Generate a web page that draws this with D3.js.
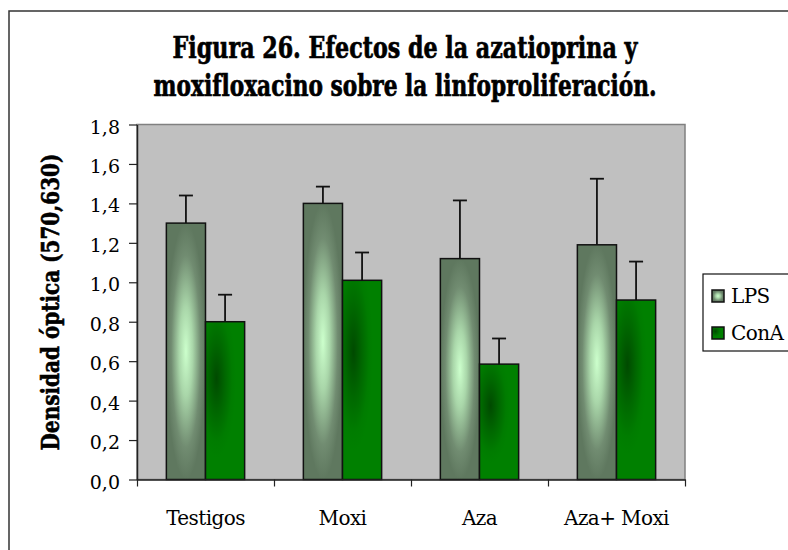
<!DOCTYPE html>
<html lang="es">
<head>
  <meta charset="UTF-8">
  <title>Figura 26</title>
  <script src="https://d3js.org/d3.v7.min.js"></script>
  <style>
    html, body {
      margin: 0;
      padding: 0;
      background: #fff;
    }
    svg {
      display: block;
      font-family: "DejaVu Serif", serif;
    }
  </style>
</head>
<body>
  <div id="chart"></div>
  <script>
    // data
    var categories = ["Testigos", "Moxi", "Aza", "Aza+ Moxi"];
    var seriesNames = ["LPS", "ConA"];
    var lpsValues = [1.30, 1.40, 1.12, 1.19];
    var lpsErrors = [0.14, 0.085, 0.295, 0.335];
    var conAValues = [0.80, 1.01, 0.585, 0.91];
    var conAErrors = [0.137, 0.141, 0.13, 0.195];
    var yTicks = [0, 0.2, 0.4, 0.6, 0.8, 1.0, 1.2, 1.4, 1.6, 1.8];
    var titleLines = ["Figura 26. Efectos de la azatioprina y",
                      "moxifloxacino sobre la linfoproliferación."];
    var yLabel = "Densidad óptica (570,630)";

    var width = 788, height = 550;
    var plot = {left: 137, right: 685, top: 124.5, bottom: 479.5};

    var svg = d3.select("#chart").append("svg")
      .attr("width", width)
      .attr("height", height);

    var defs = svg.append("defs");

    // LPS: light mint centre fading to grey-green edges
    var lpsGrad = defs.append("radialGradient")
      .attr("id", "lpsGrad")
      .attr("cx", "50%").attr("cy", "50%").attr("r", "50%");
    lpsGrad.append("stop").attr("offset", "0%").attr("stop-color", "#ccffcc");
    lpsGrad.append("stop").attr("offset", "35%").attr("stop-color", "#a9d6a9");
    lpsGrad.append("stop").attr("offset", "75%").attr("stop-color", "#718c71");
    lpsGrad.append("stop").attr("offset", "100%").attr("stop-color", "#5f785f");

    // ConA: green with a darker patch upper left
    var conGrad = defs.append("radialGradient")
      .attr("id", "conGrad")
      .attr("cx", "28%").attr("cy", "36%").attr("r", "50%");
    conGrad.append("stop").attr("offset", "0%").attr("stop-color", "#004a00");
    conGrad.append("stop").attr("offset", "45%").attr("stop-color", "#006800");
    conGrad.append("stop").attr("offset", "80%").attr("stop-color", "#007c00");
    conGrad.append("stop").attr("offset", "100%").attr("stop-color", "#008000");

    var fills = {LPS: "url(#lpsGrad)", ConA: "url(#conGrad)"};

    // squeeze a text horizontally (in its own frame) to a target width
    function squeeze(sel, target) {
      sel.each(function(d, i) {
        var t = d3.select(this);
        var w = this.getComputedTextLength();
        var goal = typeof target === "function" ? target(d, i) : target;
        var base = t.attr("data-base") || "";
        t.attr("transform", base + ` scale(${goal / w},1)`);
      });
    }

    // outer chart frame (runs off the right and bottom edge)
    svg.append("rect")
      .attr("x", 9).attr("y", 11)
      .attr("width", 820).attr("height", 580)
      .attr("fill", "#fff")
      .attr("stroke", "#333")
      .attr("stroke-width", 1.5);

    // title
    svg.append("g").selectAll("text")
      .data(titleLines)
      .join("text")
      .attr("x", 0)
      .attr("y", 0)
      .attr("data-base", (d, i) => `translate(405,${58 + i * 38})`)
      .attr("text-anchor", "middle")
      .attr("font-weight", "bold")
      .attr("font-size", 29)
      .attr("stroke", "#000")
      .attr("stroke-width", 0.7)
      .text(d => d)
      .call(squeeze, (d, i) => i === 0 ? 465 : 503);

    // scales
    var y = d3.scaleLinear().domain([0, 1.8]).range([plot.bottom, plot.top]);
    var x0 = d3.scaleBand().domain(categories).range([plot.left, plot.right]).padding(0);
    var x1 = d3.scaleBand().domain(seriesNames).range([0, x0.bandwidth()])
      .paddingInner(0).paddingOuter(0.75);
    var xEdge = d3.scaleLinear().domain([0, categories.length]).range([plot.left, plot.right]);

    // plot area
    svg.append("rect")
      .attr("x", plot.left).attr("y", plot.top)
      .attr("width", plot.right - plot.left)
      .attr("height", plot.bottom - plot.top)
      .attr("fill", "#c0c0c0")
      .attr("stroke", "#808080")
      .attr("stroke-width", 1.5);

    var rows = categories.map(function(c, i) {
      return [
        {cat: c, s: "LPS", v: lpsValues[i], e: lpsErrors[i]},
        {cat: c, s: "ConA", v: conAValues[i], e: conAErrors[i]}
      ];
    });
    var flat = d3.merge(rows);

    // bars
    svg.append("g").selectAll("rect")
      .data(flat)
      .join("rect")
      .attr("x", d => x0(d.cat) + x1(d.s))
      .attr("y", d => y(d.v))
      .attr("width", x1.bandwidth())
      .attr("height", d => y(0) - y(d.v))
      .attr("fill", d => fills[d.s])
      .attr("stroke", "#111")
      .attr("stroke-width", 1.5);

    // error bars (upper only)
    var err = svg.append("g")
      .attr("stroke", "#111")
      .attr("stroke-width", 1.8);
    err.selectAll("line.stem")
      .data(flat)
      .join("line")
      .attr("class", "stem")
      .attr("x1", d => x0(d.cat) + x1(d.s) + x1.bandwidth() / 2)
      .attr("x2", d => x0(d.cat) + x1(d.s) + x1.bandwidth() / 2)
      .attr("y1", d => y(d.v))
      .attr("y2", d => y(d.v + d.e));
    err.selectAll("line.cap")
      .data(flat)
      .join("line")
      .attr("class", "cap")
      .attr("x1", d => x0(d.cat) + x1(d.s) + x1.bandwidth() / 2 - 7)
      .attr("x2", d => x0(d.cat) + x1(d.s) + x1.bandwidth() / 2 + 7)
      .attr("y1", d => y(d.v + d.e))
      .attr("y2", d => y(d.v + d.e));

    // y axis
    var yAxis = svg.append("g")
      .attr("transform", `translate(${plot.left},0)`)
      .call(d3.axisLeft(y)
        .tickValues(yTicks)
        .tickSize(8)
        .tickSizeOuter(0)
        .tickPadding(9)
        .tickFormat(d => d.toFixed(1).replace(".", ",")));
    yAxis.select(".domain").attr("stroke", "#222").attr("stroke-width", 1.5);
    yAxis.selectAll(".tick line").attr("stroke", "#222").attr("stroke-width", 1.2);
    yAxis.selectAll(".tick text")
      .attr("font-family", "DejaVu Serif, serif")
      .attr("font-size", 19)
      .attr("fill", "#000")
      .attr("dy", "0.45em");

    // x axis: tick marks between categories
    var xAxis = svg.append("g")
      .attr("transform", `translate(0,${plot.bottom})`)
      .call(d3.axisBottom(xEdge)
        .tickValues(d3.range(categories.length + 1))
        .tickSize(7)
        .tickSizeOuter(0)
        .tickFormat(""));
    xAxis.select(".domain").attr("stroke", "#222").attr("stroke-width", 1.5);
    xAxis.selectAll(".tick line").attr("stroke", "#222").attr("stroke-width", 1.2);

    // category labels
    var xLab = svg.append("g")
      .attr("transform", `translate(0,${plot.bottom})`)
      .call(d3.axisBottom(x0).tickSize(0).tickPadding(31));
    xLab.select(".domain").remove();
    xLab.selectAll(".tick text")
      .attr("font-family", "DejaVu Serif, serif")
      .attr("font-size", 20)
      .attr("fill", "#000")
      .attr("letter-spacing", -0.6);

    // y axis title
    svg.append("text")
      .attr("x", 0)
      .attr("y", 0)
      .attr("data-base", "translate(59,302) rotate(-90)")
      .attr("text-anchor", "middle")
      .attr("font-weight", "bold")
      .attr("font-size", 25)
      .attr("stroke", "#000")
      .attr("stroke-width", 0.6)
      .text(yLabel)
      .call(squeeze, 297);

    // legend
    var legend = svg.append("g");
    legend.append("rect")
      .attr("x", 703).attr("y", 274)
      .attr("width", 110).attr("height", 77)
      .attr("fill", "#fff")
      .attr("stroke", "#111")
      .attr("stroke-width", 1.2);
    var item = legend.selectAll("g.item")
      .data(seriesNames)
      .join("g")
      .attr("class", "item")
      .attr("transform", (d, i) => `translate(712,${290 + i * 37})`);
    item.append("rect")
      .attr("width", 12).attr("height", 12)
      .attr("fill", d => fills[d])
      .attr("stroke", "#111")
      .attr("stroke-width", 1.5);
    item.append("text")
      .attr("x", 19)
      .attr("y", 13)
      .attr("font-size", 20)
      .attr("letter-spacing", -0.6)
      .text(d => d);
  </script>
</body>
</html>
